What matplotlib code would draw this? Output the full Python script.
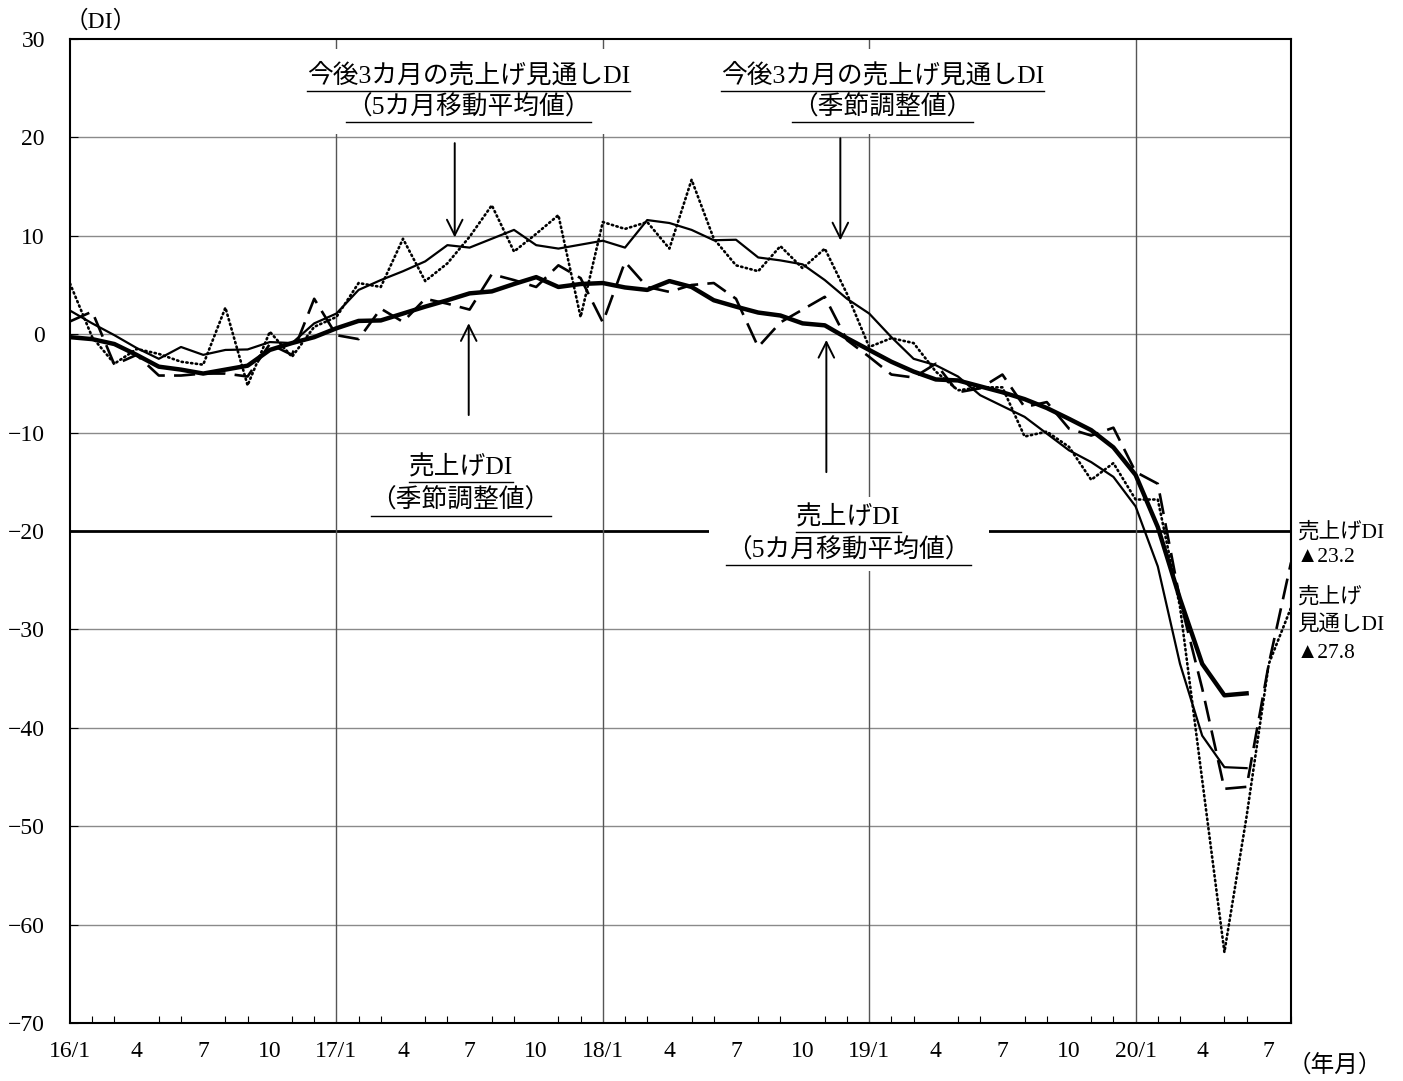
import matplotlib
matplotlib.use('Agg')
import matplotlib.pyplot as plt
import numpy as np

plt.rcParams['font.family'] = ['Liberation Serif', 'Noto Sans CJK JP', 'DejaVu Sans']
plt.rcParams['axes.unicode_minus'] = True

# months from 16/1 (index 0) to 20/8 (index 55)
month_ticks = list(range(0, 55, 3))
month_labels = ['16/1', '4', '7', '10', '17/1', '4', '7', '10', '18/1', '4', '7', '10',
                '19/1', '4', '7', '10', '20/1', '4', '7']

# 売上げDI 5カ月移動平均値 (16/1 - 20/6)
sales_ma = [-0.3, -0.5, -1.0, -2.1, -3.3, -3.6, -4.0, -3.6, -3.2, -1.6, -0.9, -0.3,
            0.6, 1.35, 1.4, 2.1, 2.8, 3.45, 4.15, 4.35, 5.1, 5.8, 4.8, 5.1,
            5.2, 4.75, 4.5, 5.4, 4.8, 3.45, 2.8, 2.2, 1.9, 1.1, 0.9, -0.4,
            -1.6, -2.8, -3.8, -4.6, -4.7, -5.3, -5.9, -6.6, -7.5, -8.6, -9.75, -11.5,
            -14.3, -19.6, -26.9, -33.5, -36.7, -36.5]

# 売上げDI 季節調整値 (16/1 - 20/8)
sales_sa = [1.3, 2.3, -3.1, -2.1, -4.2, -4.2, -4.0, -4.0, -4.3, -1.0, -2.1, 3.6,
            -0.1, -0.5, 2.6, 1.25, 3.6, 3.1, 2.5, 6.1, 5.5, 4.8, 7.0, 5.7,
            1.2, 7.35, 4.8, 4.3, 5.0, 5.2, 3.6, -1.3, 1.2, 2.5, 3.8, -0.6,
            -2.3, -4.1, -4.4, -3.0, -5.9, -5.5, -4.1, -7.4, -6.9, -9.6, -10.3, -9.5,
            -14.0, -15.2, -27.0, -36.0, -46.2, -46.0, -33.5, -23.2]

# 今後3カ月の売上げ見通しDI 5カ月移動平均値 (16/1 - 20/6)
outlook_ma = [2.4, 1.1, -0.1, -1.4, -2.5, -1.3, -2.1, -1.6, -1.55, -0.8, -0.9, 1.1,
              2.1, 4.5, 5.5, 6.4, 7.4, 9.05, 8.8, 9.7, 10.6, 9.05, 8.7, 9.1,
              9.5, 8.8, 11.6, 11.3, 10.6, 9.55, 9.6, 7.8, 7.5, 7.1, 5.5, 3.6,
              2.1, -0.3, -2.5, -3.15, -4.3, -6.2, -7.3, -8.4, -10.1, -11.8, -13.0, -14.5,
              -17.5, -23.6, -33.5, -40.8, -44.0, -44.1]

# 今後3カ月の売上げ見通しDI 季節調整値 (16/1 - 20/8)
outlook_sa = [5.15, -0.3, -3.0, -1.5, -2.0, -2.8, -3.1, 2.7, -5.2, 0.25, -2.3, 0.75,
              1.75, 5.2, 4.8, 9.7, 5.4, 7.2, 9.9, 13.1, 8.4, 10.2, 12.1, 1.75,
              11.4, 10.7, 11.4, 8.7, 15.7, 9.7, 7.0, 6.4, 8.95, 6.7, 8.7, 4.1,
              -1.3, -0.4, -0.9, -3.8, -5.7, -5.4, -5.4, -10.4, -9.9, -11.45, -14.8, -13.1,
              -16.8, -16.8, -27.7, -45.3, -62.8, -49.0, -33.5, -27.8]

fig = plt.figure(figsize=(14.03, 10.81), dpi=100, facecolor='w')
ax = fig.add_axes([70/1403, 58/1081, (1291-70)/1403, (1023-39)/1081])

# grid
for yv in range(-70, 31, 10):
    if yv == -20:
        ax.axhline(yv, color='black', lw=2.0, zorder=1)
    elif -70 < yv < 30:
        ax.axhline(yv, color='#8a8a8a', lw=1.0, zorder=1)
for xv in [12, 24, 36, 48]:
    ax.axvline(xv, color='#555555', lw=1.0, zorder=1)

x_ma = np.arange(len(sales_ma))
x_sa = np.arange(len(sales_sa))
ax.plot(np.arange(len(outlook_sa)), outlook_sa, color='black', lw=1.9,
        linestyle=(0, (0.5, 1.3)), dash_capstyle='round', zorder=3)
ax.plot(x_sa, sales_sa, color='black', lw=1.9, linestyle=(0, (8, 3.5)), zorder=3)
ax.plot(np.arange(len(outlook_ma)), outlook_ma, color='black', lw=1.6, zorder=4)
ax.plot(x_ma, sales_ma, color='black', lw=3.2, zorder=5)

ax.set_xlim(0, 55)
ax.set_ylim(-70, 30)
ax.set_yticks(range(-70, 31, 10))
ax.set_yticklabels([('−' + str(-v)) if v < 0 else str(v) for v in range(-70, 31, 10)])
ax.set_xticks(month_ticks)
ax.set_xticklabels(month_labels)
ax.set_xticks(range(0, 56), minor=True)
ax.tick_params(axis='x', which='major', length=0, pad=13, labelsize=17)
ax.tick_params(axis='x', which='minor', direction='in', length=5, width=0.8)
ax.tick_params(axis='y', direction='in', length=6, width=0.8, pad=18, labelsize=17)
for s in ax.spines.values():
    s.set_linewidth(1.5)

fs = 18.5
labels = [
    (17.95, 26.3, '今後3カ月の売上げ見通しDI'),
    (17.95, 23.07, '（5カ月移動平均値）'),
    (36.6, 26.3, '今後3カ月の売上げ見通しDI'),
    (36.6, 23.07, '（季節調整値）'),
    (17.6, -13.5, '売上げDI'),
    (17.6, -16.9, '（季節調整値）'),
    (35.06, -18.6, '売上げDI'),
    (35.06, -21.95, '（5カ月移動平均値）'),
]
# white backgrounds behind the annotation blocks
ax.add_patch(plt.Rectangle((10.2, 20.3), 15.5, 8.7, facecolor='white', edgecolor='none', zorder=2))
ax.add_patch(plt.Rectangle((28.8, 20.3), 15.5, 8.7, facecolor='white', edgecolor='none', zorder=2))
ax.add_patch(plt.Rectangle((28.8, -24.1), 12.6, 7.6, facecolor='white', edgecolor='none', zorder=2))

texts = []
for x, y, s in labels:
    t = ax.text(x, y, s, ha='center', va='center', fontsize=fs, zorder=6)
    texts.append(t)

fig.canvas.draw()
r = fig.canvas.get_renderer()
inv = ax.transData.inverted()
for t in texts:
    bb = t.get_window_extent(r)
    (x0, y0), (x1, y1) = inv.transform([(bb.x0, bb.y0), (bb.x1, bb.y0)])
    ax.plot([x0, x1], [y0 - 0.3, y0 - 0.3], color='black', lw=1.0, zorder=6)

arrow = dict(arrowstyle='->', lw=1.4, color='black', mutation_scale=28)
ax.annotate('', xy=(17.33, 9.55), xytext=(17.33, 19.7), arrowprops=arrow, zorder=6)
ax.annotate('', xy=(34.7, 9.25), xytext=(34.7, 20.2), arrowprops=arrow, zorder=6)
ax.annotate('', xy=(17.96, 1.4), xytext=(17.96, -8.5), arrowprops=arrow, zorder=6)
ax.annotate('', xy=(34.07, -0.3), xytext=(34.07, -14.3), arrowprops=arrow, zorder=6)

fig.text(101/1403, 1 - 22/1081, '（DI）', ha='center', va='center', fontsize=17)
fig.text(1335/1403, 1 - 1066/1081, '（年月）', ha='center', va='center', fontsize=17)

side = [(532, '売上げDI'), (558, '▲23.2'), (597, '売上げ'), (625, '見通しDI'), (654, '▲27.8')]
for py, s in side:
    fig.text(1297/1403, 1 - py/1081, s, ha='left', va='center', fontsize=15.5)

fig.savefig('out.png', dpi=100)
